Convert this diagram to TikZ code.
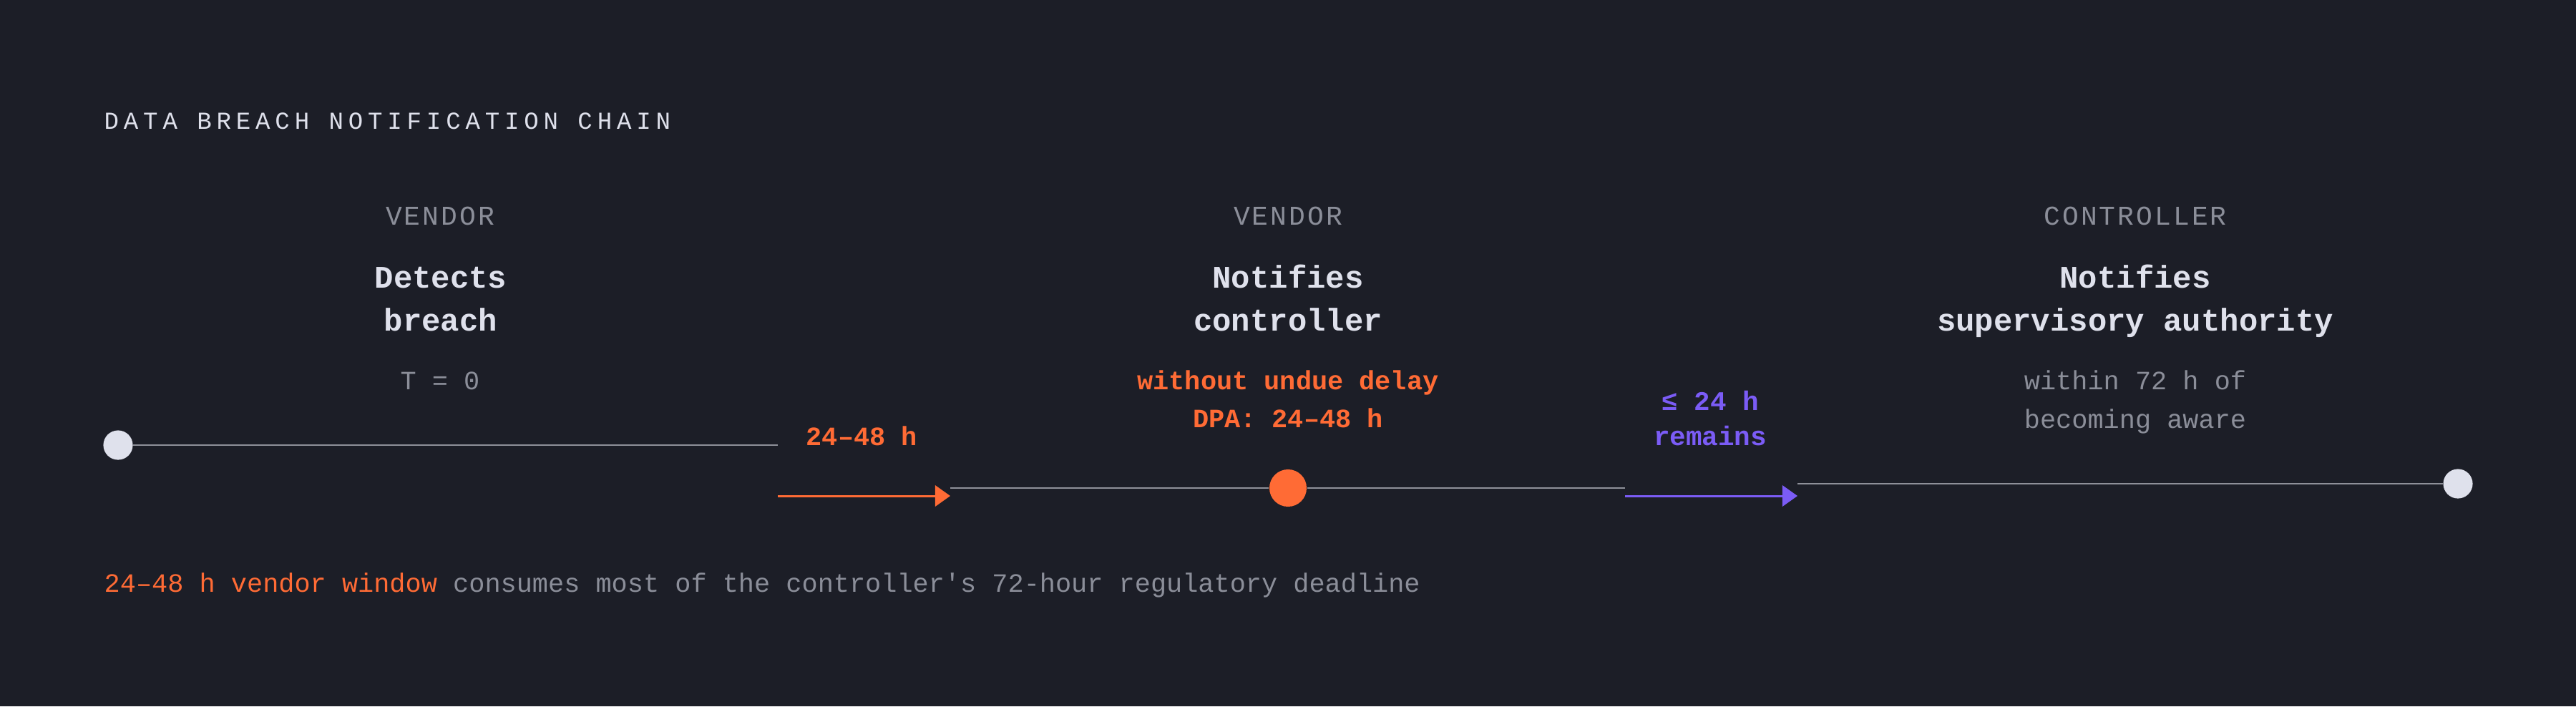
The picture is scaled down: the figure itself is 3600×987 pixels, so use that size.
\documentclass[tikz,border=0pt]{standalone}
\usepackage{fontspec}
\setmonofont{Liberation Mono}
\renewcommand{\familydefault}{\ttdefault}
\usetikzlibrary{arrows.meta}

\definecolor{bgdark}{HTML}{1C1E27}
\definecolor{inklight}{HTML}{DFE1EC}
\definecolor{inkgray}{HTML}{8B8E99}
\definecolor{rulegray}{HTML}{8E9099}
\definecolor{accorange}{HTML}{FF6B35}
\definecolor{accpurple}{HTML}{7B5CF6}

\begin{document}
\begin{tikzpicture}[x=0.01cm, y=-0.01cm,
    every node/.style={inner sep=0pt},
    heading/.style={text=inklight, anchor=base west, font=\fontsize{9.7pt}{12pt}\selectfont\addfontfeature{LetterSpace=20}},
    role/.style={text=inkgray, anchor=base, font=\fontsize{10.8pt}{13pt}\selectfont\addfontfeature{LetterSpace=8}},
    act/.style={text=inklight, anchor=base, align=center, font=\fontsize{12.5pt}{16.8pt}\selectfont\bfseries},
    note/.style={text=inkgray, anchor=base, align=center, font=\fontsize{10.5pt}{15.1pt}\selectfont},
    hot/.style={text=accorange, anchor=base, align=center, font=\fontsize{10.5pt}{14.9pt}\selectfont\bfseries},
    cool/.style={text=accpurple, anchor=base, align=center, font=\fontsize{10.7pt}{13.7pt}\selectfont\bfseries},
    stage/.style={circle, fill=inklight, minimum size=11.7pt},
    hotstage/.style={circle, fill=accorange, minimum size=14.8pt},
    track/.style={draw=rulegray, line width=0.8pt},
    lag/.style={line width=0.85pt, -{Triangle[length=6pt,width=8.3pt]}}]
    \fill[bgdark] (0,0) rectangle (3600,987);
    \useasboundingbox (0,0) rectangle (3600,987);

    % multi-line nodes sit on the baseline of their last line
    \node[heading] (title) at (145,180) {DATA BREACH NOTIFICATION CHAIN};

    \node[role] (roleA) at (615,314) {VENDOR};
    \node[act] (actA) at (616,462) {Detects\\breach};
    \node[note] (noteA) at (615,544) {T = 0};

    \node[role] (roleB) at (1800,314) {VENDOR};
    \node[act] (actB) at (1800,462) {Notifies\\controller};
    \node[hot] (noteB) at (1800,597) {without undue delay\\DPA: 24–48 h};

    \node[role] (roleC) at (2984,314) {CONTROLLER};
    \node[act] (actC) at (2984,462) {Notifies\\supervisory authority};
    \node[note] (noteC) at (2984,598) {within 72 h of\\becoming aware};

    \node[hot, anchor=base west] (lagA) at (1126,622) {24–48 h};
    \node[cool] (lagB) at (2390,622) {≤ 24 h\\remains};

    \node[stage] (start) at (165,622) {};
    \node[hotstage] (notify) at (1800,682) {};
    \node[stage] (finish) at (3435,676) {};

    \coordinate (startEnd) at (1087,622);
    \coordinate (lagAfrom) at (1087,693);
    \coordinate (lagAto) at (1328,693);
    \coordinate (midFrom) at (1328,682);
    \coordinate (midTo) at (2271,682);
    \coordinate (lagBfrom) at (2271,693);
    \coordinate (lagBto) at (2512,693);
    \coordinate (endFrom) at (2512,676);

    \draw[track] (start) -- (startEnd);
    \draw[lag, accorange] (lagAfrom) -- (lagAto);
    \draw[track] (midFrom) -- (notify) -- (midTo);
    \draw[lag, accpurple] (lagBfrom) -- (lagBto);
    \draw[track] (endFrom) -- (finish);

    \node[anchor=base west, text=inkgray, font=\fontsize{10.5pt}{13pt}\selectfont] (foot) at (145,827)
        {\textcolor{accorange}{24–48 h vendor window} consumes most of the controller's 72-hour regulatory deadline};
\end{tikzpicture}
\end{document}
